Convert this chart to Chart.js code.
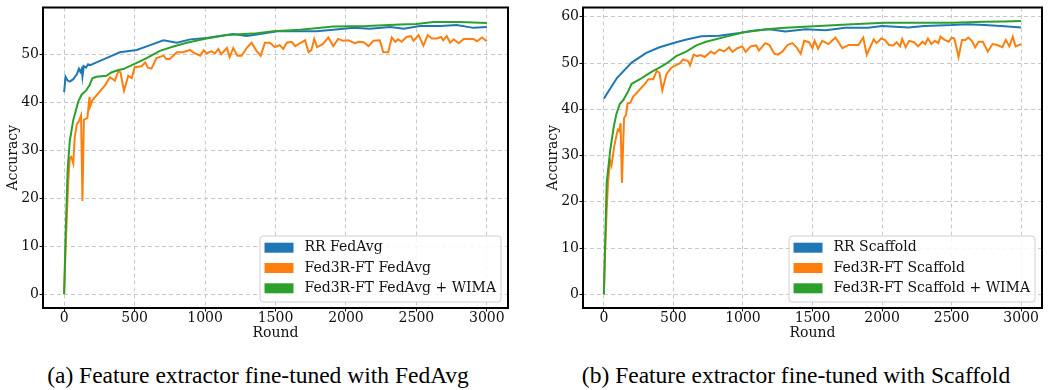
<!DOCTYPE html>
<html>
<head>
<meta charset="utf-8">
<script src="https://cdn.jsdelivr.net/npm/chart.js@4.4.1/dist/chart.umd.min.js"></script>
<style>
  body { margin: 0; background: #fff; width: 1048px; height: 390px; position: relative; overflow: hidden; }
  .panel { position: absolute; top: 0; height: 345px; }
  .caption { position: absolute; top: 361px; font-family: "Liberation Serif", serif; font-size: 23.5px; line-height: 28px; color: #000; text-align: center; white-space: nowrap; }
</style>
</head>
<body>
<div class="panel" style="left:0;width:520px"><canvas id="left"></canvas></div>
<div class="panel" style="left:540px;width:508px"><canvas id="right"></canvas></div>
<div class="caption" style="left:0;width:516px">(a) Feature extractor fine-tuned with FedAvg</div>
<div class="caption" style="left:540px;width:512px">(b) Feature extractor fine-tuned with Scaffold</div>
<script>
// tick values
const xTicks = [0, 500, 1000, 1500, 2000, 2500, 3000];
const leftYTicks = [0, 10, 20, 30, 40, 50];
const rightYTicks = [0, 10, 20, 30, 40, 50, 60];

// (a) FedAvg
const lRrRounds = [0,10,25,40,65,90,105,115,125,130,140,155,170,185,230,300,395,515,610,705,800,895,1010,1200,1295,1390,1510,1790,1910,2055,2170,2315,2410,2525,2670,2785,2905,3000];
const lRrAcc = [42.2,45.4,44.6,44.4,44.9,45.9,47.1,46.4,47.1,45.4,47.6,47.3,48.0,47.8,48.4,49.3,50.5,51.0,52.0,53.0,52.5,53.2,53.5,54.3,53.9,54.3,54.9,54.9,55.2,55.6,55.4,55.8,55.4,56.0,56.0,56.2,55.6,55.8];

const lFtRounds = [0,10,20,30,40,50,65,75,90,105,120,130,140,165,180,185,200,290,325,360,385,400,425,455,480,500,550,575,595,620,655,705,725,750,800,845,895,915,965,990,1010,1045,1070,1095,1115,1155,1175,1200,1230,1260,1295,1330,1365,1395,1425,1460,1495,1530,1555,1580,1615,1640,1675,1710,1735,1755,1775,1795,1835,1875,1910,1945,1980,2015,2065,2090,2125,2160,2195,2240,2265,2300,2325,2350,2370,2395,2430,2460,2480,2515,2550,2580,2610,2645,2675,2690,2715,2740,2765,2800,2835,2905,2930,2965,3000];
const lFtAcc = [0,9,17,24,28.5,28.7,27.3,32.7,35.5,36.1,37.3,19.5,36.4,36.8,41.2,39.2,40.5,43.6,45.3,44.6,46.6,46.3,42.5,45.6,45.1,47.4,47.6,48.4,47.3,47.1,49.3,49.8,49.1,49.1,50.5,50.5,51.0,50.5,49.8,50.9,50.3,50.7,50.3,51.2,50.1,51.4,49.5,51.4,49.8,49.8,51.4,52.5,50.8,49.8,52.5,52.5,51.6,52.0,51.2,52.5,52.7,51.8,52.4,53.0,50.5,51.0,53.3,51.6,52.2,53.6,51.8,53.3,52.9,53.0,52.4,52.7,52.6,51.8,52.9,53.0,50.5,50.5,53.6,52.7,53.2,52.7,53.7,53.9,52.9,54.1,51.9,54.1,53.4,53.4,53.7,53.0,53.9,52.5,53.2,52.4,53.3,53.3,52.8,53.6,52.8];

const lWimaRounds = [0,10,25,40,65,100,125,155,180,200,230,300,335,385,420,515,585,680,775,870,1010,1155,1340,1485,1675,1910,2145,2385,2500,2620,2810,3000];
const lWimaAcc = [0,12,26,32.0,36.4,40.2,41.7,42.5,43.6,45.1,45.4,45.6,46.3,46.8,47.0,48.3,49.3,50.8,51.7,52.5,53.4,54.1,54.4,54.9,55.2,55.9,56.0,56.3,56.4,56.8,56.8,56.6];

// (b) Scaffold
const rRrRounds = [0,95,200,305,400,520,595,700,830,975,1070,1190,1305,1450,1595,1735,1900,2000,2190,2305,2500,2615,2735,2855,3000];
const rRrAcc = [42.3,46.8,50.1,52.2,53.4,54.5,55.1,55.8,55.9,56.5,57.0,57.3,56.8,57.3,57.1,57.6,57.6,58.0,57.7,58.0,58.2,58.4,58.2,58.0,57.7];

const rFtRounds = [0,10,20,30,45,55,75,100,110,120,130,145,160,170,190,210,295,320,355,380,400,420,450,485,515,545,570,605,620,645,670,695,725,770,795,830,865,900,925,960,995,1020,1055,1095,1115,1160,1190,1225,1250,1285,1320,1355,1385,1415,1440,1475,1500,1515,1540,1570,1615,1665,1715,1760,1830,1865,1890,1940,1960,1995,2020,2050,2080,2105,2130,2145,2170,2195,2230,2260,2290,2310,2330,2355,2380,2405,2420,2450,2480,2500,2520,2550,2575,2600,2620,2645,2670,2695,2725,2760,2795,2830,2865,2890,2915,2940,2960,3000];
const rFtAcc = [0,10,18,24.3,28.9,27.9,32.1,35.6,35.3,37.0,24.1,38.1,38.8,41.3,41.4,42.7,45.5,46.5,46.5,48.3,47.9,44.1,47.6,49.0,49.5,49.9,50.8,50.4,49.5,51.8,51.5,51.7,51.3,52.5,52.0,52.9,52.5,53.4,52.4,53.2,53.6,52.4,53.6,53.8,52.7,54.3,53.9,52.0,51.8,52.5,53.9,54.3,53.4,52.0,54.8,54.5,53.2,54.8,53.1,54.8,54.1,55.5,53.2,53.9,53.9,55.5,51.8,55.1,54.3,55.3,55.0,53.9,53.8,54.5,53.6,55.2,53.4,54.8,54.5,53.6,54.6,54.1,55.3,54.1,54.8,54.3,55.7,55.0,54.6,55.5,55.3,51.3,55.0,55.0,55.5,54.8,53.4,54.6,54.6,52.5,54.1,53.9,53.4,55.0,53.6,55.7,53.6,54.1];

const rWimaRounds = [0,10,20,45,70,90,115,140,175,200,260,305,355,400,450,520,595,665,735,880,1000,1165,1305,1545,1785,2020,2260,2500,2735,2880,3000];
const rWimaAcc = [0,12,24,31,36,39,41.2,42.0,43.9,45.5,46.5,47.4,48.3,49.0,49.9,51.5,52.5,53.8,54.6,55.7,56.6,57.3,57.6,58.0,58.4,58.7,58.7,58.7,58.9,59.0,59.1];

const blue = '#1f77b4', orange = '#ff7f0e', green = '#2ca02c';
const ink = '#111';
const tickFont = {family: 'DejaVu Serif', size: 14, lineHeight: 1};
const titleFont = {family: 'DejaVu Serif', size: 14};

function pts(rounds, acc) {
  return rounds.map((r, i) => ({x: r, y: acc[i]}));
}

// box around the plot area + legend in the lower right corner
const frame = {
  id: 'frame',
  afterDraw(chart) {
    const {ctx, chartArea: a} = chart;
    ctx.save();
    ctx.strokeStyle = '#000';
    ctx.lineWidth = 2;
    ctx.strokeRect(a.left, a.top, a.right - a.left, a.bottom - a.top);

    const ds = chart.data.datasets;
    ctx.font = '14px "DejaVu Serif"';
    const tw = Math.max(...ds.map(d => ctx.measureText(d.label).width));
    const w = 4.5 + 29 + 11 + tw + 5;
    const h = 66;
    const x = a.right - 7 - w, y = a.bottom - 6 - h;
    ctx.fillStyle = 'rgba(255,255,255,0.85)';
    ctx.strokeStyle = '#d0d0d0';
    ctx.lineWidth = 1;
    ctx.beginPath();
    ctx.roundRect(x, y, w, h, 3);
    ctx.fill();
    ctx.stroke();
    ds.forEach((d, i) => {
      const cy = y + 11.7 + i * 20.3;
      ctx.fillStyle = d.borderColor;
      ctx.fillRect(x + 4.5, cy - 5, 29, 10);
      ctx.fillStyle = ink;
      ctx.textBaseline = 'middle';
      ctx.textAlign = 'left';
      ctx.fillText(d.label, x + 44.5, cy);
    });
    ctx.restore();
  }
};

function makeChart(id, series, yMin, yMax, yTicks, padRight) {
  return new Chart(document.getElementById(id), {
    type: 'line',
    data: {
      datasets: series.map(s => ({
        label: s.label,
        data: s.data,
        borderColor: s.color,
        backgroundColor: s.color,
        borderWidth: 2,
        pointRadius: 0,
        tension: 0,
        order: s.order
      }))
    },
    options: {
      responsive: true,
      maintainAspectRatio: false,
      animation: false,
      layout: {padding: {top: 2, right: padRight, left: 0, bottom: 0}},
      plugins: {legend: {display: false}, tooltip: {enabled: false}},
      scales: {
        x: {
          type: 'linear',
          min: -150, max: 3150,
          afterBuildTicks: s => { s.ticks = xTicks.map(v => ({value: v})); },
          afterFit: s => { s.height = 37; },
          grid: {color: '#c8c8c8', lineWidth: 1, tickColor: ink, tickLength: 3.5},
          border: {display: false, dash: [4, 3]},
          ticks: {font: tickFont, color: ink, padding: 0, maxRotation: 0, callback: v => String(v)},
          title: {display: true, text: 'Round', font: titleFont, color: ink, padding: {top: 0, bottom: 3}}
        },
        y: {
          min: yMin, max: yMax,
          afterBuildTicks: s => { s.ticks = yTicks.map(v => ({value: v})); },
          afterFit: s => { s.width = 43; },
          grid: {color: '#c8c8c8', lineWidth: 1, tickColor: ink, tickLength: 3.5},
          border: {display: false, dash: [4, 3]},
          ticks: {font: tickFont, color: ink, padding: 0.5, callback: v => String(v)},
          title: {display: true, text: 'Accuracy', font: titleFont, color: ink, padding: {top: 5, bottom: 0}}
        }
      }
    },
    plugins: [frame]
  });
}

makeChart('left', [
  {label: 'RR FedAvg', data: pts(lRrRounds, lRrAcc), color: blue, order: 2},
  {label: 'Fed3R-FT FedAvg', data: pts(lFtRounds, lFtAcc), color: orange, order: 1},
  {label: 'Fed3R-FT FedAvg + WIMA', data: pts(lWimaRounds, lWimaAcc), color: green, order: 0}
], -2.85, 59.85, leftYTicks, 12);

makeChart('right', [
  {label: 'RR Scaffold', data: pts(rRrRounds, rRrAcc), color: blue, order: 2},
  {label: 'Fed3R-FT Scaffold', data: pts(rFtRounds, rFtAcc), color: orange, order: 1},
  {label: 'Fed3R-FT Scaffold + WIMA', data: pts(rWimaRounds, rWimaAcc), color: green, order: 0}
], -2.95, 62, rightYTicks, 6);
</script>
</body>
</html>
